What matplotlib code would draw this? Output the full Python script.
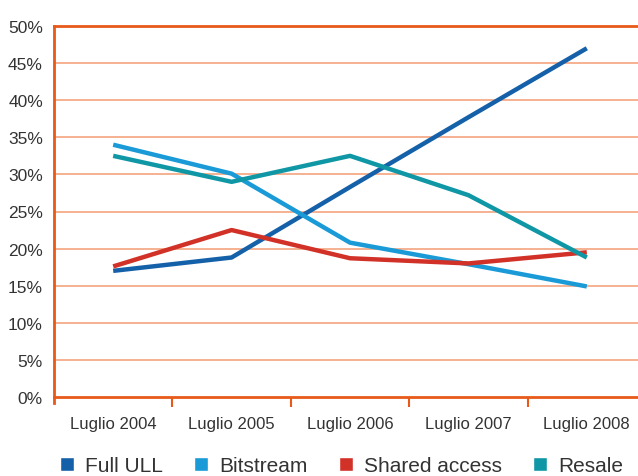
import matplotlib
matplotlib.use('Agg')
import matplotlib.pyplot as plt
from matplotlib.lines import Line2D

periods = ['Luglio 2004', 'Luglio 2005', 'Luglio 2006', 'Luglio 2007', 'Luglio 2008']
full_ull = [17.0, 18.8, 28.3, 37.7, 47.0]
bitstream = [34.0, 30.1, 20.8, 17.9, 14.9]
shared_access = [17.6, 22.5, 18.7, 18.0, 19.5]
resale = [32.5, 29.0, 32.5, 27.2, 18.8]
y_ticks = [0, 5, 10, 15, 20, 25, 30, 35, 40, 45, 50]

series = [
    ('Full ULL', full_ull, '#1561a9'),
    ('Bitstream', bitstream, '#1a9bd7'),
    ('Shared access', shared_access, '#d23128'),
    ('Resale', resale, '#1097a6'),
]

plt.rcParams['font.family'] = ['Liberation Sans', 'DejaVu Sans']
text_col = '#333333'
axis_col = '#e85a1a'
grid_col = '#f4a47e'

fig = plt.figure(figsize=(6.38, 4.77), dpi=100)
ax = fig.add_axes([54 / 638, 1 - 398 / 477, 592 / 638, 371 / 477])

x = list(range(len(periods)))
for name, vals, col in series:
    ax.plot(x, vals, color=col, lw=3.2, solid_capstyle='butt', label=name, zorder=3)

ax.set_xlim(-0.5, len(periods) - 0.5)
ax.set_ylim(0, 50)
ax.set_yticks(y_ticks)
ax.set_yticklabels([f'{v}%' for v in y_ticks], fontsize=12.5, color=text_col)
ax.tick_params(axis='y', length=0, pad=8)

ax.set_xticks(x)
ax.set_xticklabels(periods, fontsize=12, color=text_col)
ax.tick_params(axis='x', which='major', length=0, pad=14)
ax.set_xticks([i + 0.5 for i in range(len(periods) - 1)], minor=True)
ax.tick_params(axis='x', which='minor', length=7, width=1.5, color=axis_col, direction='out')

for v in y_ticks[1:-1]:
    ax.axhline(v, color=grid_col, lw=1.2, zorder=1)

for s in ['left', 'bottom', 'top']:
    ax.spines[s].set_color(axis_col)
    ax.spines[s].set_linewidth(2)
ax.spines['right'].set_visible(False)
ax.spines['left'].set_bounds(-0.8, 50)

handles = [Line2D([0], [0], marker='s', color='w', markerfacecolor=c, markersize=9.5, lw=0)
           for _, _, c in series]
leg = fig.legend(handles, [s[0] for s in series], loc='center', ncol=4,
                 bbox_to_anchor=(0.535, 1 - 467 / 477), frameon=False, fontsize=15,
                 handlelength=0.7, handletextpad=0.5, columnspacing=1.5, borderpad=0)
for t in leg.get_texts():
    t.set_color(text_col)

plt.savefig('out.png', dpi=100)
